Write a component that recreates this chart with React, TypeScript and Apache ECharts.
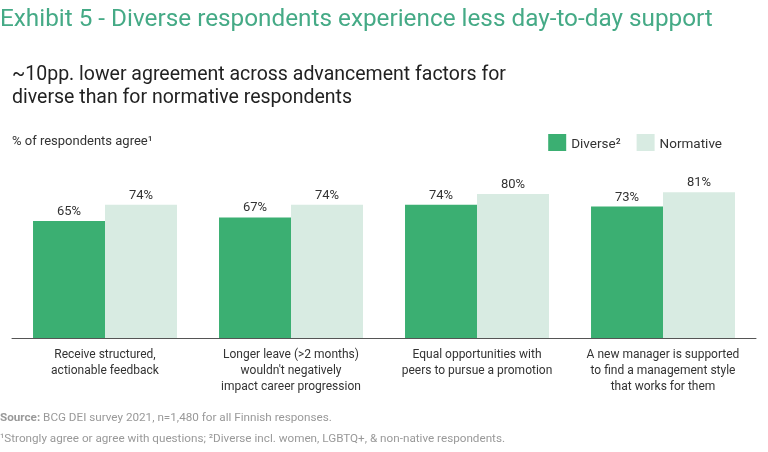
import React, { useEffect, useRef } from "react";
import * as echarts from "echarts";

const categories = [
  "Receive structured,\nactionable feedback",
  "Longer leave (>2 months)\nwouldn't negatively\nimpact career progression",
  "Equal opportunities with\npeers to pursue a promotion",
  "A new manager is supported\nto find a management style\nthat works for them",
];
const diverse = [65, 67, 74, 73];
const normative = [74, 74, 80, 81];
const seriesNames = ["Diverse²", "Normative"];

const FONT = "Roboto";

export default function App() {
  const ref = useRef<HTMLDivElement>(null);
  useEffect(() => {
    document.body.style.margin = "0";
    const chart = echarts.init(ref.current!, null, { renderer: "svg" });
    chart.setOption({
      animation: false,
      textStyle: { fontFamily: FONT },
      grid: { left: 12, right: 12, top: 158, bottom: 114 },
      legend: {
        top: 134,
        right: 46,
        padding: 0,
        itemWidth: 18,
        itemHeight: 17,
        itemGap: 16,
        icon: "rect",
        textStyle: { fontSize: 13.5, color: "#333", fontFamily: FONT },
        data: seriesNames,
      },
      xAxis: {
        type: "category",
        data: categories,
        axisLine: { lineStyle: { color: "#555", width: 1 } },
        axisTick: { show: false },
        axisLabel: {
          color: "#333",
          fontSize: 12,
          lineHeight: 16,
          margin: 8,
          interval: 0,
          fontFamily: FONT,
        },
      },
      yAxis: { type: "value", min: 0, max: 100, show: false, splitLine: { show: false } },
      series: [
        {
          name: seriesNames[0],
          type: "bar",
          data: diverse,
          barGap: "0%",
          barCategoryGap: "22.6%",
          itemStyle: { color: "#3BAF72" },
          label: { show: true, position: "top", distance: 4, formatter: "{c}%", color: "#333", fontSize: 13, fontFamily: FONT },
        },
        {
          name: seriesNames[1],
          type: "bar",
          data: normative,
          barGap: "0%",
          barCategoryGap: "22.6%",
          itemStyle: { color: "#D8EBE2" },
          label: { show: true, position: "top", distance: 4, formatter: "{c}%", color: "#333", fontSize: 13, fontFamily: FONT },
        },
      ],
      graphic: [
        {
          type: "text",
          left: 0,
          top: 5,
          style: { text: "Exhibit 5 - Diverse respondents experience less day-to-day support", fill: "#45AA86", fontSize: 24.3, fontFamily: FONT },
        },
        {
          type: "text",
          left: 12,
          top: 62,
          style: {
            text: "~10pp. lower agreement across advancement factors for\ndiverse than for normative respondents",
            fill: "#222",
            fontSize: 19.5,
            lineHeight: 23,
            fontFamily: FONT,
          },
        },
        {
          type: "text",
          left: 12,
          top: 134,
          style: { text: "% of respondents agree¹", fill: "#333", fontSize: 13, fontFamily: FONT },
        },
        {
          type: "text",
          left: 0,
          top: 411,
          style: {
            text: "{b|Source:} BCG DEI survey 2021, n=1,480 for all Finnish responses.",
            fill: "#999",
            fontSize: 11.7,
            fontFamily: FONT,
            rich: { b: { fontWeight: "bold", fill: "#999", fontSize: 11.7, fontFamily: FONT } },
          },
        },
        {
          type: "text",
          left: 0,
          top: 432,
          style: {
            text: "¹Strongly agree or agree with questions; ²Diverse incl. women, LGBTQ+, & non-native respondents.",
            fill: "#999",
            fontSize: 11.7,
            fontFamily: FONT,
          },
        },
      ],
    });
    return () => chart.dispose();
  }, []);
  return <div ref={ref} style={{ width: 768, height: 452, position: "fixed", left: 0, top: 0 }} />;
}
